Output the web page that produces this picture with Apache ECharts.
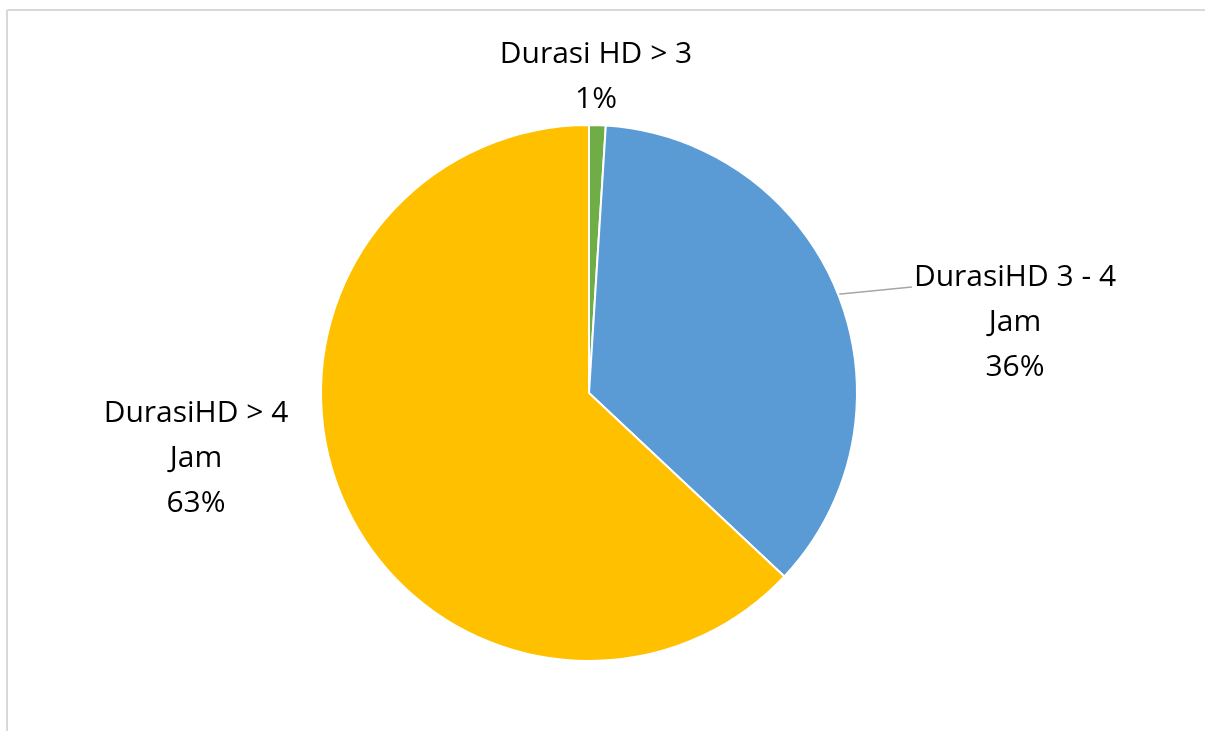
<!DOCTYPE html>
<html>
<head>
<meta charset="utf-8">
<script src="https://cdn.jsdelivr.net/npm/echarts@6/dist/echarts.min.js"></script>
<style>
  html, body { margin: 0; padding: 0; background: #fff; overflow: hidden; }
  #chart { width: 1205px; height: 731px; }
</style>
</head>
<body>
<div id="chart"></div>
<script>
// data
var names = ['Durasi HD > 3', 'DurasiHD 3 - 4 Jam', 'DurasiHD > 4 Jam'];
var percents = [1, 36, 63];
var colors = ['#70AD47', '#5B9BD5', '#FFC000'];

// label spots (x, y centre) for each slice
var labelSpots = [[596, 77], [1015, 322], [196, 458]];

(function(){
    var myChart = echarts.init(document.getElementById('chart'));
    var option = {
        animation: false,
        graphic: [{
            type: 'line',
            shape: { x1: 7, y1: 10, x2: 1205, y2: 10 },
            style: { stroke: '#d9d9d9', lineWidth: 2 },
            silent: true
        }, {
            type: 'line',
            shape: { x1: 7, y1: 10, x2: 7, y2: 731 },
            style: { stroke: '#d9d9d9', lineWidth: 2 },
            silent: true
        }],
        series: [{
            type: 'pie',
            center: [589, 393],
            radius: [0, 268],
            startAngle: 90,
            clockwise: true,
            itemStyle: { borderColor: '#fff', borderWidth: 2 },
            label: {
                show: true,
                position: 'outside',
                formatter: function(p){
                    return p.name.replace(' Jam', '\nJam') + '\n' + p.value + '%';
                },
                fontFamily: 'Open Sans',
                fontSize: 30,
                lineHeight: 45,
                color: '#000',
                align: 'center'
            },
            labelLine: {
                show: true,
                lineStyle: { color: '#a6a6a6', width: 1.5 },
                length: 0,
                length2: 0
            },
            labelLayout: function(params){
                var s = labelSpots[params.dataIndex];
                var out = { x: s[0], y: s[1], align: 'center', verticalAlign: 'middle' };
                // leader line ends at the first text row, like the office chart
                if (params.labelLinePoints) {
                    var p0 = params.labelLinePoints[0];
                    var endX = s[0] - params.labelRect.width / 2 - 2;
                    var endY = s[1] - 35;
                    out.labelLinePoints = [p0, [endX, endY], [endX, endY]];
                }
                return out;
            },
            data: names.map(function(n, i){
                return {
                    name: n,
                    value: percents[i],
                    itemStyle: { color: colors[i] },
                    labelLine: { show: i === 1 }
                };
            })
        }]
    };
    myChart.setOption(option);
})();
</script>
</body>
</html>
